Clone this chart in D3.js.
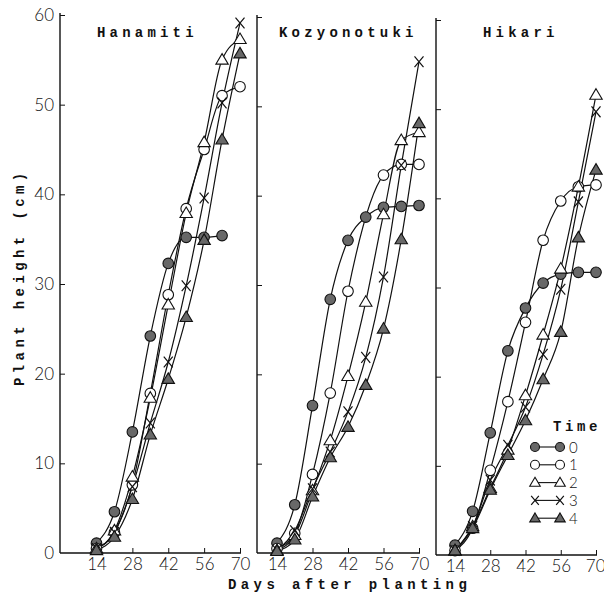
<!DOCTYPE html>
<html>
<head>
<meta charset="utf-8">
<script src="https://cdn.jsdelivr.net/npm/d3@7"></script>
<style>
  body { margin: 0; background: #fff; }
  svg { display: block; }
  .tick text { font-family: Lato, "DejaVu Sans", sans-serif; font-weight: 300; font-size: 17px; fill: #111; }
  .mono { font-family: "Liberation Mono", "DejaVu Sans Mono", monospace; font-weight: bold; fill: #111; }
</style>
</head>
<body>
<div id="chart"></div>
<script>
const days = [14, 21, 28, 35, 42, 49, 56, 63, 70];
const times = ["0", "1", "2", "3", "4"];
const varieties = ["Hanamiti", "Kozyonotuki", "Hikari"];
const yTicks = [0, 10, 20, 30, 40, 50, 60];
const xTicks = [14, 28, 42, 56, 70];

// plant height (cm) per time of treatment, one row per time (0..4)
const hanamiti = [
    [1.1, 4.6, 13.5, 24.2, 32.3, 35.2, 35.2, 35.4, null],
    [0.5, 2.3, 7.6, 17.8, 28.8, 38.4, 45.0, 51.0, 52.0],
    [0.5, 2.5, 8.5, 17.3, 27.7, 37.9, 45.8, 55.0, 57.3],
    [0.5, 2.3, 7.4, 14.5, 21.3, 29.8, 39.6, 50.2, 59.1],
    [0.3, 1.8, 6.0, 13.2, 19.4, 26.3, 34.9, 46.1, 55.7]
];
const kozyonotuki = [
    [1.1, 5.4, 16.5, 28.4, 35.0, 37.6, 38.7, 38.8, 38.9],
    [0.5, 2.2, 8.8, 17.9, 29.3, null, 42.3, 43.5, 43.5],
    [0.3, 2.0, 7.0, 12.6, 19.8, 28.1, 37.9, 46.2, 47.1],
    [0.3, 2.5, 7.2, 11.3, 15.8, 21.9, 30.9, 43.4, 55.0],
    [0.2, 1.5, 6.3, 10.7, 14.1, 18.8, 25.1, 35.1, 48.1]
];
const hikari = [
    [1.1, 4.9, 13.7, 22.9, 27.7, 30.5, 31.5, 31.7, 31.7],
    [0.5, 3.0, 9.5, 17.2, 26.1, 35.3, 39.7, 41.3, 41.5],
    [0.5, 3.2, 7.5, 11.8, 17.9, 24.7, 32.1, 41.3, 51.6],
    [0.5, 3.2, 8.4, 12.3, 16.6, 22.5, 29.8, 39.6, 49.7],
    [0.5, 3.0, 7.3, 11.2, 15.1, 19.7, 25.0, 35.6, 43.2]
];
const panelData = [hanamiti, kozyonotuki, hikari];

const W = 604, H = 597;
const svg = d3.select("#chart").append("svg").attr("width", W).attr("height", H);

// layout of the three panels (pixel positions)
const panels = [
    { left: 60, d14: 96.5, d70: 240, top: 15, bottom: 553, titleX: 97, labels: true },
    { left: 257, d14: 277, d70: 419, top: 17, bottom: 553, titleX: 279, labels: false },
    { left: 436, d14: 455, d70: 596, top: 20, bottom: 555, titleX: 483, labels: false }
];

const darkFill = "#686868";
const ink = "#111";

function drawMarker(g, type, cx, cy, k = 1) {
    if (type === "0" || type === "1") {
        g.append("circle")
            .attr("cx", cx).attr("cy", cy).attr("r", 5.3 * k)
            .attr("fill", type === "0" ? darkFill : "#fff")
            .attr("stroke", ink).attr("stroke-width", 1.1);
    } else if (type === "2" || type === "4") {
        const s = 6.2 * k;
        g.append("path")
            .attr("d", `M${cx},${cy - s}L${cx + s},${cy + s * 0.7}L${cx - s},${cy + s * 0.7}Z`)
            .attr("fill", type === "4" ? darkFill : "#fff")
            .attr("stroke", ink).attr("stroke-width", 1.1);
    } else {
        const s = 4.5 * k;
        g.append("path")
            .attr("d", `M${cx - s},${cy - s * 1.2}L${cx + s},${cy + s * 1.2}M${cx + s},${cy - s * 1.2}L${cx - s},${cy + s * 1.2}`)
            .attr("fill", "none")
            .attr("stroke", ink).attr("stroke-width", 1.2);
    }
}

panels.forEach((p, i) => {
    const g = svg.append("g");
    const x = d3.scaleLinear().domain([14, 70]).range([p.d14, p.d70]);
    const y = d3.scaleLinear().domain([0, 60]).range([p.bottom, p.top]);

    // axes lines
    g.append("line")
        .attr("x1", p.left).attr("x2", p.left)
        .attr("y1", p.top - 2).attr("y2", p.bottom)
        .attr("stroke", ink).attr("stroke-width", 1.4);
    g.append("line")
        .attr("x1", p.left).attr("x2", p.d70 + 1)
        .attr("y1", p.bottom).attr("y2", p.bottom)
        .attr("stroke", ink).attr("stroke-width", 1.4);

    const yAxis = g.append("g")
        .attr("transform", `translate(${p.left},0)`)
        .call(d3.axisLeft(y).tickValues(yTicks).tickSizeInner(-5).tickSizeOuter(0).tickPadding(6)
            .tickFormat(p.labels ? d3.format("d") : ""));
    yAxis.select(".domain").remove();
    yAxis.selectAll(".tick line").attr("stroke", ink);
    yAxis.selectAll(".tick").filter(d => d === 0).select("line").remove();

    const xAxis = g.append("g")
        .attr("transform", `translate(0,${p.bottom})`)
        .call(d3.axisBottom(x).tickValues(xTicks).tickSizeInner(-5).tickSizeOuter(0).tickPadding(5));
    xAxis.select(".domain").remove();
    xAxis.selectAll(".tick line").attr("stroke", ink);
    if (i === 2) {
        xAxis.selectAll(".tick text").filter(d => d === 70).attr("text-anchor", "end").attr("dx", "9");
    }

    // title
    g.append("text")
        .attr("class", "mono")
        .attr("x", p.titleX).attr("y", 37)
        .style("font-size", "14px")
        .style("letter-spacing", "4.2px")
        .text(varieties[i]);

    const line = d3.line()
        .x(d => x(d.day))
        .y(d => y(d.v))
        .curve(d3.curveMonotoneX);

    panelData[i].forEach(series => {
        const pts = series.map((v, j) => ({ day: days[j], v: v })).filter(d => d.v !== null);
        g.append("path")
            .datum(pts)
            .attr("fill", "none")
            .attr("stroke", ink)
            .attr("stroke-width", 1.2)
            .attr("d", line);
    });
    // markers drawn after all lines
    panelData[i].forEach((series, k) => {
        series.forEach((v, j) => {
            if (v === null) return;
            drawMarker(g, times[k], x(days[j]), y(v));
        });
    });
});

// axis titles
svg.append("text")
    .attr("class", "mono")
    .attr("transform", "translate(24,386) rotate(-90)")
    .style("font-size", "14px")
    .style("letter-spacing", "4.4px")
    .text("Plant height (cm)");

svg.append("text")
    .attr("class", "mono")
    .attr("x", 228).attr("y", 589)
    .style("font-size", "14px")
    .style("letter-spacing", "4.4px")
    .text("Days after planting");

// legend
const legend = svg.append("g");
legend.append("text")
    .attr("class", "mono")
    .attr("x", 553).attr("y", 431)
    .style("font-size", "14px")
    .style("letter-spacing", "3.6px")
    .text("Time");

times.forEach((t, k) => {
    const ly = 447 + k * 17.8;
    legend.append("line")
        .attr("x1", 535).attr("x2", 560)
        .attr("y1", ly).attr("y2", ly)
        .attr("stroke", ink).attr("stroke-width", 1.1);
    drawMarker(legend, t, 535, ly, 0.85);
    drawMarker(legend, t, 560, ly, 0.85);
    legend.append("text")
        .attr("x", 569).attr("y", ly + 5.5)
        .style("font-family", "Lato, 'DejaVu Sans', sans-serif")
        .style("font-weight", 300)
        .style("font-size", "15px")
        .attr("fill", ink)
        .text(t);
});
</script>
</body>
</html>
